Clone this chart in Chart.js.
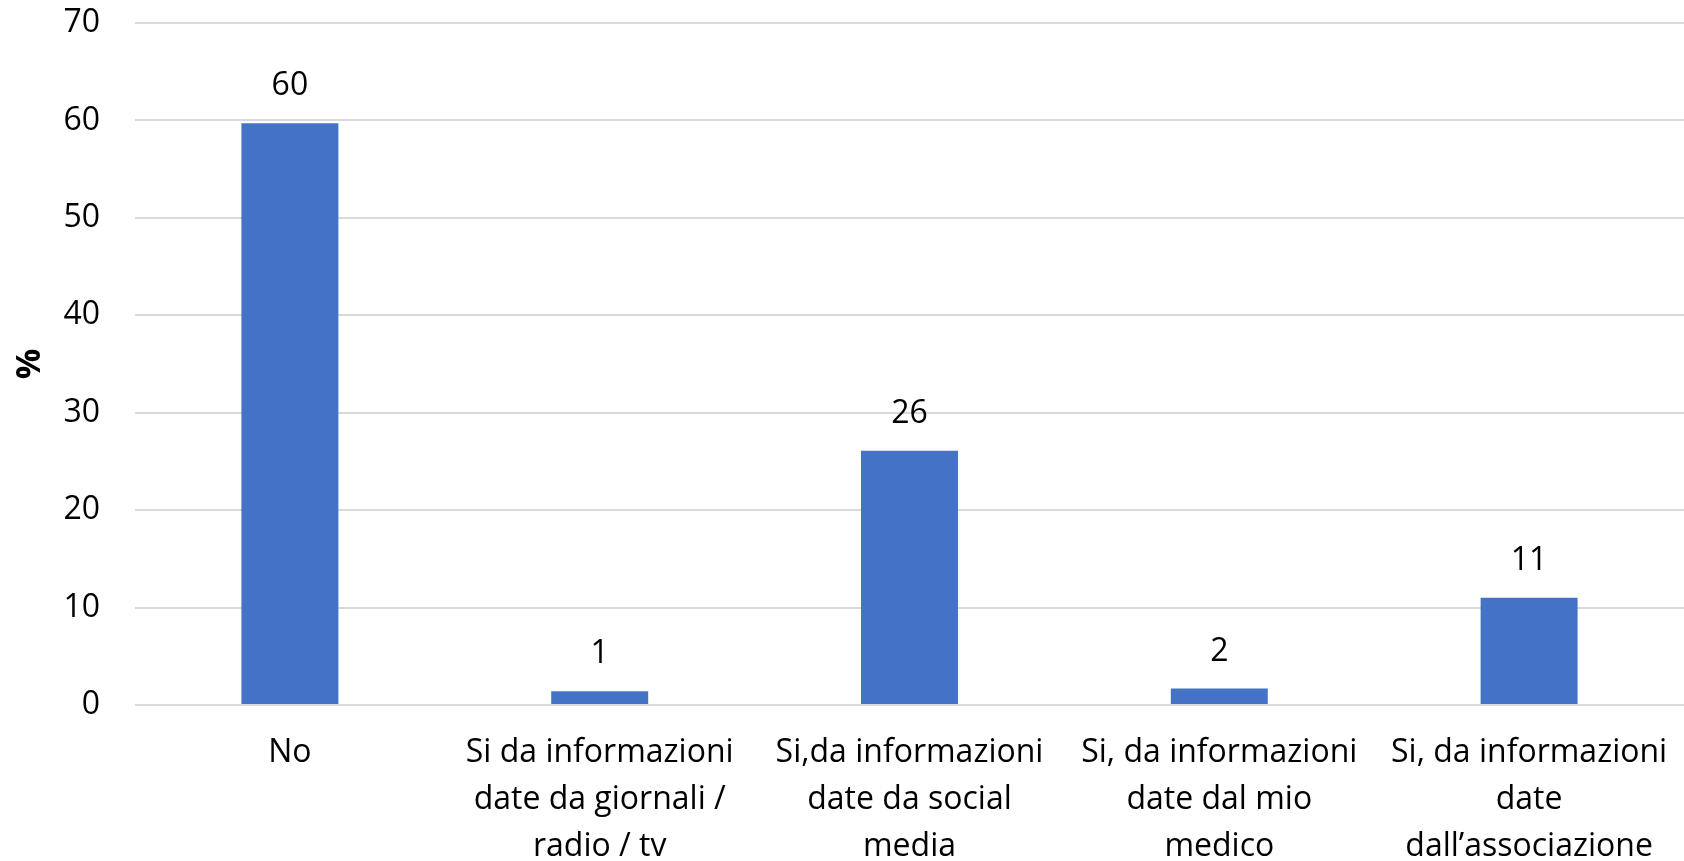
<!DOCTYPE html>
<html>
<head>
<meta charset="utf-8">
<script src="https://cdn.jsdelivr.net/npm/chart.js@4.4.1/dist/chart.umd.min.js"></script>
<style>
  html, body { margin: 0; padding: 0; background: #ffffff; }
  #wrap { width: 1684px; height: 861px; position: relative; }
</style>
</head>
<body>
<div id="wrap"><canvas id="c" width="1684" height="861"></canvas></div>
<script>
const categories = [
  ["No"],
  ["Si da informazioni", "date da giornali /", "radio / tv"],
  ["Si,da informazioni", "date da social", "media"],
  ["Si, da informazioni", "date dal mio", "medico"],
  ["Si, da informazioni", "date", "dall\u2019associazione"]
];
const values = [59.7, 1.4, 26.1, 1.7, 11.0];
const valueLabels = ["60", "1", "26", "2", "11"];
const yTicks = [0, 10, 20, 30, 40, 50, 60, 70];
const yTitle = "%";

const FONT = "'Open Sans', Lato, sans-serif";

const dataLabelPlugin = {
  id: 'dataLabels',
  afterDatasetsDraw(chart) {
    const ctx = chart.ctx;
    const meta = chart.getDatasetMeta(0);
    ctx.save();
    ctx.font = "32px " + FONT;
    ctx.fillStyle = "#000000";
    ctx.textAlign = "center";
    ctx.textBaseline = "middle";
    meta.data.forEach((bar, i) => {
      ctx.fillText(valueLabels[i], bar.x, bar.y - 37);
    });
    ctx.restore();
  }
};

new Chart(document.getElementById('c'), {
  type: 'bar',
  data: {
    labels: categories,
    datasets: [{
      data: values,
      backgroundColor: '#4472C4',
      borderWidth: 0,
      categoryPercentage: 1.0,
      barPercentage: 0.313
    }]
  },
  options: {
    responsive: false,
    animation: false,
    devicePixelRatio: 1,
    layout: { padding: { top: 23, right: 0, left: 0, bottom: 0 } },
    plugins: {
      legend: { display: false },
      tooltip: { enabled: false },
      title: { display: false }
    },
    scales: {
      x: {
        grid: { display: false, drawTicks: false },
        border: { display: false },
        ticks: {
          color: '#000000',
          font: { family: FONT, size: 32, lineHeight: 1.47 },
          maxRotation: 0,
          autoSkip: false,
          padding: 24
        },
        afterFit(scale) {
          scale.height = 156;
          scale.paddingLeft = 0;
          scale.paddingRight = 0;
        }
      },
      y: {
        min: 0,
        max: 70,
        afterBuildTicks(scale) { scale.ticks = yTicks.map(v => ({ value: v })); },
        grid: { color: '#D9D9D9', lineWidth: 2, drawTicks: false },
        border: { display: false },
        ticks: {
          color: '#000000',
          font: { family: FONT, size: 32 },
          padding: 35
        },
        title: {
          display: true,
          text: yTitle,
          color: '#000000',
          font: { family: FONT, size: 34, weight: 'bold' },
          padding: { top: 10, bottom: 0 }
        },
        afterFit(scale) {
          scale.width = 135;
          scale.paddingTop = 0;
          scale.paddingBottom = 0;
        }
      }
    }
  },
  plugins: [dataLabelPlugin]
});
</script>
</body>
</html>
